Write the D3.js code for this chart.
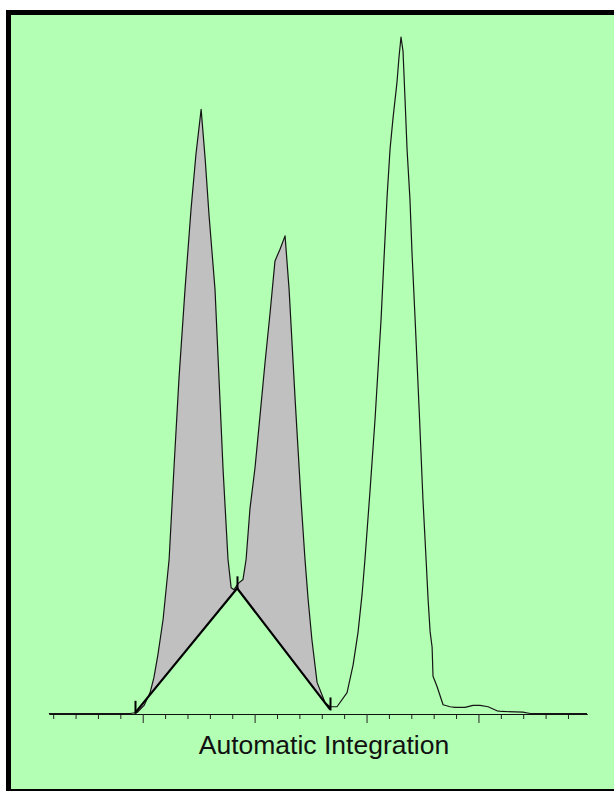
<!DOCTYPE html>
<html><head><meta charset="utf-8">
<script src="https://cdn.jsdelivr.net/npm/d3@7"></script>
<style>html,body{margin:0;padding:0;background:#fff;overflow:hidden}</style>
</head><body>
<script>
// Retention time (min) and detector signal (% of largest peak)
const time = [0.081,0.443,0.475,0.506,0.533,0.550,0.568,0.591,0.618,0.640,0.662,0.689,0.716,0.738,0.761,
  0.779,0.796,0.823,0.841,0.859,0.881,0.895,0.908,0.926,0.948,0.962,0.979,1.002,1.024,1.046,1.069,1.091,1.113,1.136,
  1.154,1.181,1.207,1.225,1.239,1.256,1.279,1.315,1.337,1.368,1.413,1.440,1.462,1.480,1.493,1.516,1.538,1.565,1.578,
  1.592,1.605,1.618,1.636,1.645,1.654,1.663,1.672,1.681,1.694,1.703,1.717,1.735,1.752,1.766,1.775,1.784,1.793,1.797,
  1.815,1.842,1.873,1.895,1.940,1.976,2.007,2.043,2.083,2.105,2.199,2.231,2.485];
const signal = [0,0,0.15,1.2,3.1,5.3,8.7,13.9,22.8,36.5,49.5,62.7,74.6,82.7,89.3,
  82.0,73.8,62.7,49.4,36.1,22.8,18.6,18.3,19.2,19.8,22.8,30.2,36.4,44.0,51.7,59.2,66.9,68.6,70.6,
  62.7,46.4,31.7,22.8,16.9,10.9,4.6,1.6,1.0,1.0,3.1,7.2,12.0,17.6,22.8,33.1,43.5,58.3,67.2,
  76.5,83.4,87.9,93.3,97.0,100,97.9,90.8,83.4,76.0,68.2,58.3,45.0,31.7,22.8,16.9,12.1,9.8,5.5,
  4.0,1.3,1.0,0.9,0.9,1.2,1.2,1.0,0.4,0.3,0.2,0,0];
// Integration events (baseline points)
const eventTime = [0.466, 0.922, 1.337];
const eventSignal = [0.1, 18.5, 0.6];
// Axis ticks
const minorTicks = [0.1,0.2,0.3,0.4,0.6,0.7,0.8,0.9,1.1,1.2,1.3,1.4,1.6,1.7,1.8,1.9,2.1,2.2,2.3,2.4];
const majorTicks = [0.5,1.0,1.5,2.0];
const title = "Automatic Integration";

const W = 614, H = 791;
const svg = d3.select("body").append("svg").attr("width", W).attr("height", H);

// frame
svg.append("rect").attr("x", 8.5).attr("y", 12.5).attr("width", 640).attr("height", 779)
  .attr("fill", "#b3ffb3").attr("stroke", "#000").attr("stroke-width", 5);

const x = d3.scaleLinear().domain([0.0813, 2.485]).range([49, 587]);
const y = d3.scaleLinear().domain([0, 100]).range([713.5, 37]);

const pts = time.map((t, i) => [t, signal[i]]);
function interp(t) {
  for (let i = 1; i < time.length; i++) {
    if (time[i] >= t) {
      const f = (t - time[i-1]) / (time[i] - time[i-1]);
      return signal[i-1] + f * (signal[i] - signal[i-1]);
    }
  }
  return 0;
}

// shaded integrated area
const t0 = eventTime[0], t2 = eventTime[2];
const poly = [[t0, eventSignal[0]]]
  .concat(pts.filter(p => p[0] > t0 && p[0] < t2))
  .concat([[t2, interp(t2)]])
  .concat([[eventTime[2], eventSignal[2]], [eventTime[1], eventSignal[1]], [eventTime[0], eventSignal[0]]]);
const line = d3.line().x(d => x(d[0])).y(d => y(d[1]));
svg.append("path").attr("d", line(poly) + "Z").attr("fill", "#c0c0c0").attr("stroke", "none");

// axis
svg.append("g").attr("transform", "translate(0,714)")
  .call(d3.axisBottom(x).tickValues(minorTicks).tickSize(5).tickSizeOuter(0).tickFormat(""));
svg.append("g").attr("transform", "translate(0,714)")
  .call(d3.axisBottom(x).tickValues(majorTicks).tickSize(9).tickSizeOuter(0).tickFormat(""));
svg.selectAll(".domain").attr("stroke", "#111");
svg.selectAll(".tick line").attr("stroke", "#222");

// trace
svg.append("path").attr("d", line(pts)).attr("fill", "none")
  .attr("stroke", "#151515").attr("stroke-width", 1.2).attr("stroke-linejoin", "round");

// integration baseline
const ev = eventTime.map((t, i) => [t, eventSignal[i]]);
svg.append("path").attr("d", line(ev)).attr("fill", "none")
  .attr("stroke", "#000").attr("stroke-width", 2.2);

// event markers
svg.selectAll(".mark").data(ev).enter().append("line")
  .attr("x1", d => Math.round(x(d[0])) + 0.5).attr("x2", d => Math.round(x(d[0])) + 0.5)
  .attr("y1", d => y(d[1]) - 12).attr("y2", d => y(d[1]) + 1)
  .attr("stroke", "#000").attr("stroke-width", 2);

svg.append("text").attr("x", 324).attr("y", 754).attr("text-anchor", "middle")
  .attr("font-family", "Liberation Sans, Arial, sans-serif").attr("font-size", 26.5)
  .attr("fill", "#111").text(title);
</script>
</body></html>
